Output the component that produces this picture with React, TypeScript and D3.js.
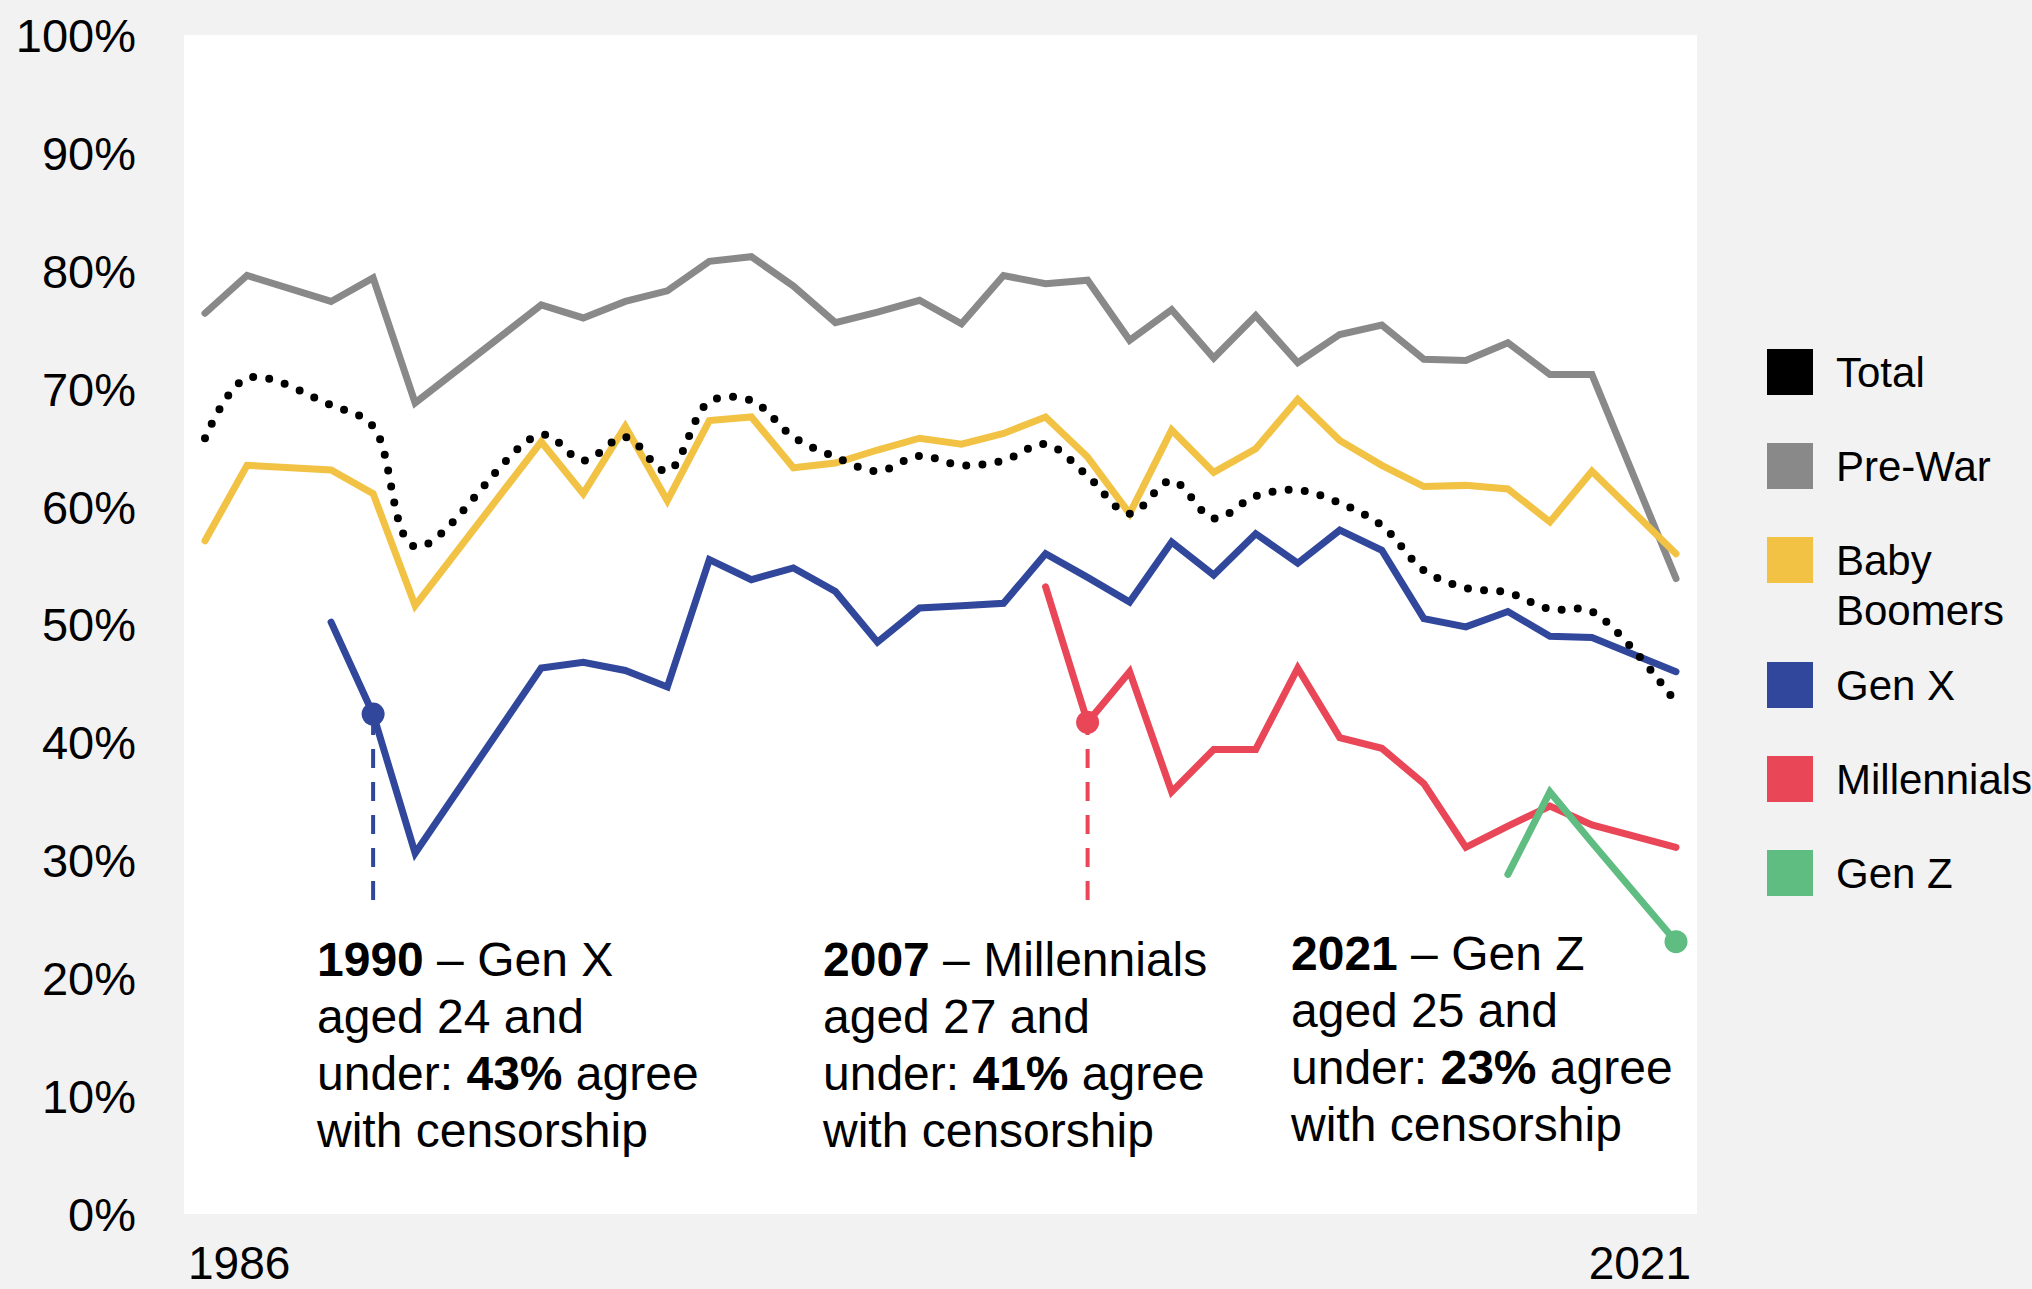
import React from 'react';
import * as d3 from 'd3';

// survey years (no fieldwork in 1988, 1992, 1993, 2020)
const years = [1986, 1987, 1989, 1990, 1991, 1994, 1995, 1996, 1997, 1998, 1999, 2000, 2001, 2002, 2003, 2004, 2005, 2006, 2007, 2008, 2009, 2010, 2011, 2012, 2013, 2014, 2015, 2016, 2017, 2018, 2019, 2021];

const total = [65.8, 70.9, 68.6, 66.8, 56.6, 66.1, 63.9, 65.9, 63.0, 68.9, 69.0, 65.9, 64.2, 63.0, 64.3, 63.5, 63.9, 65.3, 62.6, 59.4, 62.2, 59.0, 60.9, 61.4, 60.3, 58.4, 54.6, 53.1, 52.7, 51.3, 51.1, 43.4];
const preWar = [76.4, 79.6, 77.4, 79.4, 68.8, 77.1, 76.0, 77.4, 78.3, 80.8, 81.2, 78.7, 75.6, 76.5, 77.5, 75.5, 79.6, 78.9, 79.2, 74.1, 76.7, 72.6, 76.2, 72.2, 74.6, 75.4, 72.5, 72.4, 73.9, 71.2, 71.2, 53.9];
const babyBoomers = [57.1, 63.5, 63.1, 61.1, 51.6, 65.5, 61.1, 66.8, 60.5, 67.3, 67.6, 63.3, 63.7, 64.8, 65.8, 65.3, 66.2, 67.6, 64.2, 59.4, 66.5, 62.9, 64.9, 69.1, 65.6, 63.5, 61.7, 61.8, 61.5, 58.7, 63.0, 56.0];
const genX = [null, null, 50.2, 42.4, 30.6, 46.3, 46.8, 46.1, 44.7, 55.5, 53.8, 54.8, 52.8, 48.5, 51.4, 51.6, 51.8, 56.0, 54.0, 51.9, 57.0, 54.2, 57.7, 55.2, 58.0, 56.3, 50.5, 49.8, 51.1, 49.0, 48.9, 46.0];
const millennials = [null, null, null, null, null, null, null, null, null, null, null, null, null, null, null, null, null, 53.2, 41.7, 46.0, 35.8, 39.4, 39.4, 46.3, 40.4, 39.5, 36.5, 31.1, 32.9, 34.6, 33.0, 31.1];
const genZ = [null, null, null, null, null, null, null, null, null, null, null, null, null, null, null, null, null, null, null, null, null, null, null, null, null, null, null, null, 28.8, 35.8, 31.5, 23.1];

const yTicks = [0, 10, 20, 30, 40, 50, 60, 70, 80, 90, 100];
const xTickLabels = ['1986', '2021'];

const COLORS = {
  total: '#000000',
  preWar: '#898989',
  babyBoomers: '#F1C244',
  genX: '#30479B',
  millennials: '#E94657',
  genZ: '#5FBD82',
};

const series = [
  { key: 'preWar', values: preWar },
  { key: 'babyBoomers', values: babyBoomers },
  { key: 'genX', values: genX },
  { key: 'millennials', values: millennials },
  { key: 'genZ', values: genZ },
];

const legendItems = [
  { key: 'total', lines: ['Total'] },
  { key: 'preWar', lines: ['Pre-War'] },
  { key: 'babyBoomers', lines: ['Baby', 'Boomers'] },
  { key: 'genX', lines: ['Gen X'] },
  { key: 'millennials', lines: ['Millennials'] },
  { key: 'genZ', lines: ['Gen Z'] },
];

// callouts: highlighted point + text block
const callouts = [
  {
    key: 'genX', year: 1990, value: 42.4, dashed: true, textX: 317, textY: 976,
    lines: [[['1990', true], [' – Gen X', false]], [['aged 24 and', false]], [['under: ', false], ['43%', true], [' agree', false]], [['with censorship', false]]],
  },
  {
    key: 'millennials', year: 2007, value: 41.7, dashed: true, textX: 823, textY: 976,
    lines: [[['2007', true], [' – Millennials', false]], [['aged 27 and', false]], [['under: ', false], ['41%', true], [' agree', false]], [['with censorship', false]]],
  },
  {
    key: 'genZ', year: 2021, value: 23.1, dashed: false, textX: 1291, textY: 970,
    lines: [[['2021', true], [' – Gen Z', false]], [['aged 25 and', false]], [['under: ', false], ['23%', true], [' agree', false]], [['with censorship', false]]],
  },
];

const W = 2032;
const H = 1289;
const FONT = '"Liberation Sans", Arial, Helvetica, sans-serif';

const App: React.FC = () => {
  const x = d3.scaleLinear().domain([1986, 2021]).range([205, 1676]);
  const y = d3.scaleLinear().domain([0, 100]).range([1214, 35]);

  const plotLeft = x(1985.5);
  const plotRight = x(2021.5);

  const line = d3.line<[number, number | null]>()
    .defined(d => d[1] != null)
    .x(d => x(d[0]))
    .y(d => y(d[1] as number));

  const smooth = d3.line<[number, number | null]>()
    .defined(d => d[1] != null)
    .x(d => x(d[0]))
    .y(d => y(d[1] as number))
    .curve(d3.curveCatmullRom.alpha(0.5));

  const pairs = (vals: (number | null)[]) => years.map((yr, i) => [yr, vals[i]] as [number, number | null]);

  const dashBottom = 900;

  // legend layout
  let ly = 349;
  const legendPos = legendItems.map(item => {
    const top = ly;
    ly += 94 + (item.lines.length - 1) * 31;
    return top;
  });

  return (
    <svg width={W} height={H} style={{ position: 'absolute', left: 0, top: 0, display: 'block' }} fontFamily={FONT}>
      <rect x={0} y={0} width={W} height={H} fill="#f2f2f2" />
      <rect x={plotLeft} y={y(100)} width={plotRight - plotLeft} height={y(0) - y(100)} fill="#ffffff" />

      {/* y axis labels */}
      {yTicks.map(t => (
        <text key={t} x={136} y={y(t)} dy="0.36em" textAnchor="end" fontSize={47} fill="#000">{`${t}%`}</text>
      ))}

      {/* x axis labels */}
      <text x={plotLeft + 4} y={1279} fontSize={46} fill="#000">{xTickLabels[0]}</text>
      <text x={plotRight - 6} y={1279} fontSize={46} textAnchor="end" fill="#000">{xTickLabels[1]}</text>

      {/* dashed callout leaders */}
      {callouts.filter(c => c.dashed).map(c => (
        <path key={`d-${c.key}`} d={`M${x(c.year)},${dashBottom}V${y(c.value)}`}
          stroke={COLORS[c.key as keyof typeof COLORS]} strokeWidth={4} strokeDasharray="19 14" fill="none" />
      ))}

      {/* series */}
      {series.map(s => (
        <path key={s.key} d={line(pairs(s.values)) || ''} fill="none"
          stroke={COLORS[s.key as keyof typeof COLORS]} strokeWidth={7}
          strokeLinecap="round" strokeLinejoin="miter" />
      ))}
      <path d={smooth(pairs(total)) || ''} fill="none" stroke={COLORS.total}
        strokeWidth={8} strokeLinecap="round" strokeDasharray="0 16.2" />

      {/* highlighted points */}
      {callouts.map(c => (
        <circle key={`c-${c.key}`} cx={x(c.year)} cy={y(c.value)} r={11.5} fill={COLORS[c.key as keyof typeof COLORS]} />
      ))}

      {/* callout text */}
      {callouts.map(c => (
        <text key={`t-${c.key}`} fontSize={48} fill="#000" style={{ whiteSpace: 'pre' }}>
          {c.lines.map((ln, i) => (
            <tspan key={i} x={c.textX} y={c.textY + i * 57}>
              {ln.map((seg, j) => (
                <tspan key={j} fontWeight={seg[1] ? 'bold' : 'normal'}>{seg[0] as string}</tspan>
              ))}
            </tspan>
          ))}
        </text>
      ))}

      {/* legend */}
      {legendItems.map((item, i) => (
        <g key={item.key}>
          <rect x={1767} y={legendPos[i]} width={46} height={46} fill={COLORS[item.key as keyof typeof COLORS]} />
          <text fontSize={42} fill="#000">
            {item.lines.map((l, k) => (
              <tspan key={k} x={1836} y={legendPos[i] + 38 + k * 50}>{l}</tspan>
            ))}
          </text>
        </g>
      ))}
    </svg>
  );
};

export default App;
